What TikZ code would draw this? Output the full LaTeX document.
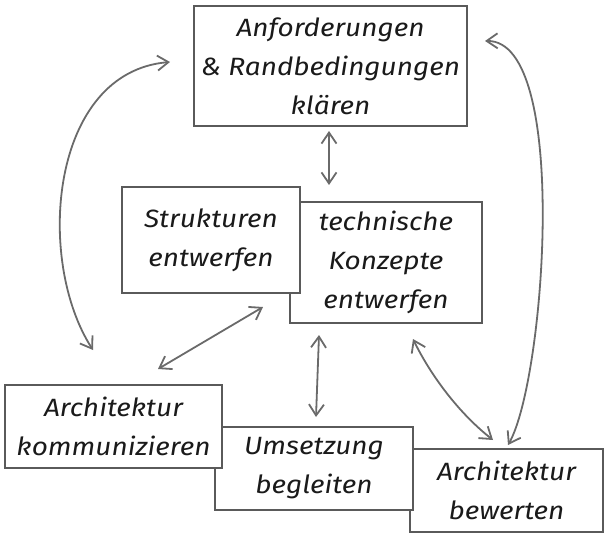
\documentclass[tikz,border=0pt]{standalone}
\usepackage{fontspec}
\newfontfamily\hand{Fira Sans Italic}[FakeStretch=1.12]
\usetikzlibrary{arrows.meta}
\definecolor{boxc}{HTML}{5A5A5A}
\definecolor{arrc}{HTML}{6A6A6A}
\definecolor{txt}{HTML}{1A1A1A}
\tikzset{
  box/.style={draw=boxc, line width=1.4pt, fill=white, inner sep=0pt, align=center,
    font=\hand\fontsize{25}{39}\selectfont, text=txt},
  link/.style={draw=arrc, line width=1.8pt,
    {Straight Barb[length=11pt,width=15pt]}-{Straight Barb[length=11pt,width=15pt]}}
}
\begin{document}
\begin{tikzpicture}[x=1pt,y=-1pt]
\useasboundingbox (0,0) rectangle (604,534);
% boxes
\node[box, minimum width=273pt, minimum height=120pt] (req) at (330.5,66) {Anforderungen\\\& Randbedingungen\\klären};
\node[box, minimum width=192pt, minimum height=121pt] (konz) at (386,262.5) {technische\\Konzepte\\entwerfen};
\node[box, minimum width=178pt, minimum height=106pt] (struk) at (211,240) {Strukturen\\entwerfen};
\node[box, minimum width=193pt, minimum height=83pt] (bew) at (506.5,490.5) {Architektur\\bewerten};
\node[box, minimum width=198pt, minimum height=83pt] (ums) at (314,468.5) {Umsetzung\\begleiten};
\node[box, minimum width=217pt, minimum height=83pt] (komm) at (113.5,426.5) {Architektur\\kommunizieren};
% connector ends
\coordinate (reqS) at (329,131);
\coordinate (konzN) at (329,185);
\coordinate (reqW) at (170,62);
\coordinate (kommN) at (93,350);
\coordinate (struS) at (263,307);
\coordinate (kommE) at (158,369);
\coordinate (konzS) at (319,335);
\coordinate (umsN) at (316,417);
\coordinate (konzSE) at (413,339);
\coordinate (bewNW) at (493,440);
\coordinate (reqE) at (485,41);
\coordinate (bewN) at (508,445);
% connectors
\draw[link] (reqS) -- (konzN);
\draw[link] (reqW) .. controls (50,72) and (35,260) .. (kommN);
\draw[link] (struS) -- (kommE);
\draw[link] (konzS) -- (umsN);
\draw[link] (konzSE) .. controls (428,370) and (455,410) .. (bewNW);
\draw[link] (reqE) .. controls (570,40) and (545,380) .. (bewN);
\end{tikzpicture}
\end{document}
